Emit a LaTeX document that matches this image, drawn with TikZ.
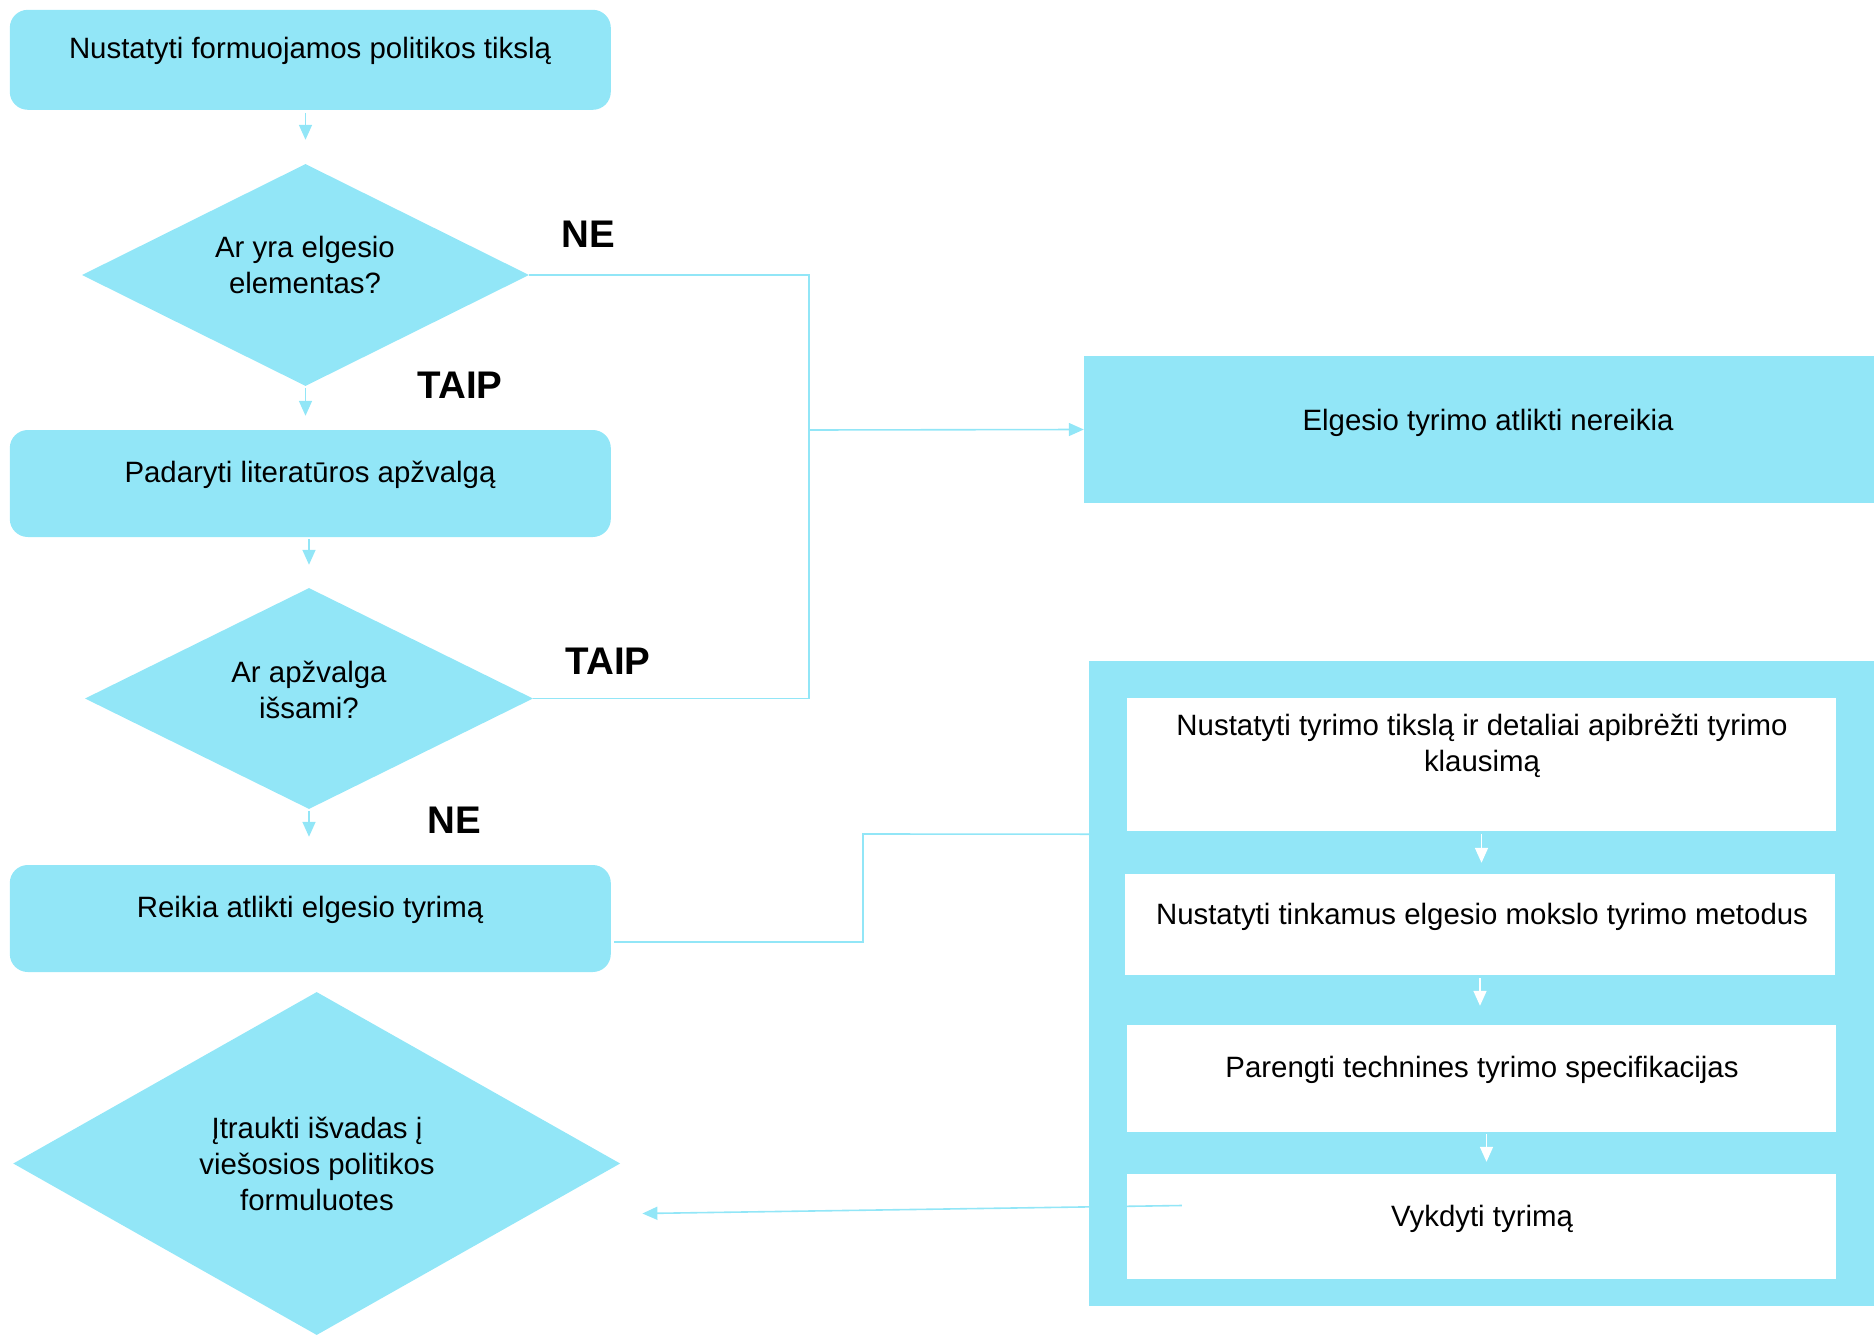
\documentclass[tikz,border=0pt]{standalone}
\usepackage{fontspec}
\setmainfont{Liberation Sans}
\usetikzlibrary{shapes.geometric,arrows.meta,calc}
\definecolor{flowcyan}{RGB}{146,230,247}
\tikzset{
  stepbox/.style={draw=none, fill=flowcyan, rounded corners=18pt, inner sep=0pt},
  plainbox/.style={draw=none, fill=flowcyan, inner sep=0pt},
  whitebox/.style={draw=none, fill=white, inner sep=0pt},
  decision/.style={diamond, draw=none, fill=flowcyan, inner sep=0pt},
  txt/.style={inner sep=0pt, align=center, font=\fontsize{29.4pt}{36pt}\selectfont},
  answer/.style={inner sep=0pt, font=\fontsize{38.5pt}{45pt}\selectfont\bfseries},
  conn/.style={draw=flowcyan, line width=1.6pt},
  arr/.style={conn, -{Triangle[length=15pt,width=13pt]}},
  warr/.style={draw=white, line width=1.6pt, -{Triangle[length=15pt,width=13pt]}}
}
\begin{document}
\begin{tikzpicture}[x=1pt, y=-1pt]
\useasboundingbox (0,0) rectangle (1874,1335);

% left column: steps and decisions
\node[stepbox, minimum width=601pt, minimum height=100pt] (b1) at (310.3,59.8) {};
\node[txt] (b1t) at (310,51) {Nustatyti formuojamos politikos tikslą};

\node[decision, minimum width=447pt, minimum height=222pt] (d1) at (305.5,275) {};
\node[txt] (d1t) at (305,265) {Ar yra elgesio\\elementas?};

\node[stepbox, minimum width=601pt, minimum height=107pt] (b2) at (310.3,483.5) {};
\node[txt] (b2t) at (310,475) {Padaryti literatūros apžvalgą};

\node[decision, minimum width=448pt, minimum height=221pt] (d2) at (309,698.5) {};
\node[txt] (d2t) at (309,690) {Ar apžvalga\\išsami?};

\node[stepbox, minimum width=601pt, minimum height=107pt] (b3) at (310.3,918.5) {};
\node[txt] (b3t) at (310,910) {Reikia atlikti elgesio tyrimą};

\node[decision, minimum width=607pt, minimum height=343pt] (d3) at (316.7,1163.5) {};
\node[txt] (d3t) at (317,1164) {Įtraukti išvadas į\\viešosios politikos\\formuluotes};

% answer labels
\node[answer] (ne1) at (588,234) {NE};
\node[answer] (taip1) at (460,385) {TAIP};
\node[answer] (taip2) at (608,661) {TAIP};
\node[answer] (ne2) at (454,820) {NE};

% right side: outcome and research steps
\node[plainbox, minimum width=790pt, minimum height=147pt] (rbox) at (1479,429.5) {};
\node[txt] (rboxt) at (1488,423) {Elgesio tyrimo atlikti nereikia};

\node[plainbox, minimum width=785pt, minimum height=645pt] (cont) at (1481.5,983.5) {};
\node[whitebox, minimum width=709pt, minimum height=133pt] (c1) at (1481.5,764.5) {};
\node[txt] (c1t) at (1482,746) {Nustatyti tyrimo tikslą ir detaliai apibrėžti tyrimo\\klausimą};
\node[whitebox, minimum width=710pt, minimum height=101pt] (c2) at (1480,924.5) {};
\node[txt] (c2t) at (1482,917) {Nustatyti tinkamus elgesio mokslo tyrimo metodus};
\node[whitebox, minimum width=709pt, minimum height=107pt] (c3) at (1481.5,1078.5) {};
\node[txt] (c3t) at (1482,1070) {Parengti technines tyrimo specifikacijas};
\node[whitebox, minimum width=709pt, minimum height=105pt] (c4) at (1481.5,1226.5) {};
\node[txt] (c4t) at (1482,1219) {Vykdyti tyrimą};

% junction points of the elbow connectors
\coordinate (j1) at (809,430);
\coordinate (j2) at (863,834);

% main flow arrows
\draw[arr, shorten <=3pt, shorten >=24pt] (b1.south -| d1.north) -- (d1.north);
\draw[arr, shorten <=2pt, shorten >=14pt] (d1.south) -- (d1.south |- b2.north);
\draw[arr, shorten <=2pt, shorten >=23pt] (b2.south -| d2.north) -- (d2.north);
\draw[arr, shorten <=2pt, shorten >=28pt] (d2.south) -- (d2.south |- b3.north);

% NE / TAIP branches joining towards the outcome box
\draw[conn] (d1.east) -| (j1) |- (d2.east);
\draw[arr] (j1) -- (rbox.west);

% research branch
\draw[conn] ($(b3.east)+(3,23.5)$) -| (j2) -- ($(cont.west |- c1.south)+(0,3)$);

% steps inside the research block
\draw[warr, shorten <=3pt, shorten >=11pt] (c1.south) -- (c1.south |- c2.north);
\draw[warr, shorten <=3pt, shorten >=19pt] (c2.south) -- (c2.south |- c3.north);
\draw[warr, shorten <=2pt, shorten >=12pt] ($(c3.south)+(5,0)$) -- ($(c3.south |- c4.north)+(5,0)$);

% results back to the policy formulation
\draw[arr] ($(c4.west)+(55,-21)$) -- ($(d3.east)+(22,50)$);
\end{tikzpicture}
\end{document}
